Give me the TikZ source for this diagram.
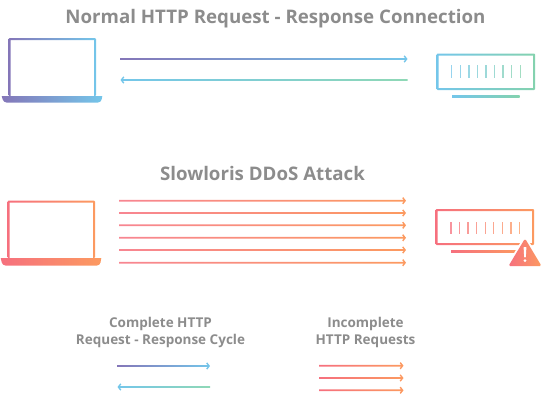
\documentclass[tikz,border=0pt]{standalone}
\usepackage{fontspec}
\setmainfont{Open Sans}
\usetikzlibrary{calc}
\definecolor{purp}{HTML}{8476B8}
\definecolor{blu}{HTML}{74C6EA}
\definecolor{grn}{HTML}{8FD8B6}
\definecolor{grn2}{HTML}{84D2AE}
\definecolor{red1}{HTML}{F6707E}
\definecolor{org}{HTML}{FC9A60}
\definecolor{txt}{HTML}{8C8C8C}
\tikzset{
  titletext/.style={font=\bfseries\fontsize{18.7}{20}\selectfont,text=txt,inner sep=0pt,anchor=base},
  legendtext/.style={font=\bfseries\fontsize{13.5}{14}\selectfont,text=txt,inner sep=0pt,anchor=base},
  grad/.style 2 args={left color=#1,right color=#2,shading angle=90,even odd rule,draw=none},
}
% gradient arrow from named coordinate #1 to #2 (pointing right or left)
\newcommand{\fwdarrow}[4][.85]{% [half width] a b; colours set by #4
  \shade[#4] let \p1=(#2),\p2=(#3) in
    (\x1,\y1+#1pt) -- (\x2-2.4pt,\y1+#1pt) -- (\x2-3.8pt,\y1+2.6pt) -- (\x2-2.8pt,\y1+3.6pt) -- (\x2,\y1)
    -- (\x2-2.8pt,\y1-3.6pt) -- (\x2-3.8pt,\y1-2.6pt) -- (\x2-2.4pt,\y1-#1pt) -- (\x1,\y1-#1pt) -- cycle;
}
\newcommand{\backarrow}[4][.85]{%
  \shade[#4] let \p1=(#2),\p2=(#3) in
    (\x1,\y1+#1pt) -- (\x2+2.4pt,\y1+#1pt) -- (\x2+3.8pt,\y1+2.6pt) -- (\x2+2.8pt,\y1+3.6pt) -- (\x2,\y1)
    -- (\x2+2.8pt,\y1-3.6pt) -- (\x2+3.8pt,\y1-2.6pt) -- (\x2+2.4pt,\y1-#1pt) -- (\x1,\y1-#1pt) -- cycle;
}
\newcommand{\laptop}[6]{% x0 y0 x1 y1 basebottom colours
  \shade[#6] [rounded corners=1pt] (#1,#2) rectangle (#3,#4)
     [sharp corners] (#1+2,#2+2) rectangle (#3-2,#4);
  \shade[#6] (#1-6.8,#4) -- (#3+6.3,#4) [rounded corners=3pt] -- (#3+5,#5) -- (#1-5,#5) [sharp corners] -- cycle;
}
\newcommand{\server}[8]{% x0 y0 x1 y1 ticky0 ticky1 colourA colourB
  \shade[grad={#7}{#8}] [rounded corners=1pt] (#1,#2) rectangle (#3,#4)
     [sharp corners] (#1+2,#2+2) rectangle (#3-2,#4-2);
  \foreach \i in {0,...,8}{
    \pgfmathsetmacro\pct{\i*12.5}
    \path[fill={#8!\pct!#7!75!white}] ({#1+15.3+\i*8.55-.65},#5) rectangle ({#1+15.3+\i*8.55+.65},#6);
  }
  \shade[grad={#7}{#8}] (#1+15.5,#4+5.9) rectangle (#3-15.5,#4+7.2);
}
\begin{document}
\begin{tikzpicture}[x=1pt,y=-1pt]
\useasboundingbox (0,0) rectangle (546,400);
% titles
\node[titletext] (t1) at (275.5,23) {Normal HTTP Request - Response Connection};
\node[titletext] (t2) at (262.5,180) {Slowloris DDoS Attack};
% top row
\laptop{8.5}{38}{96}{96}{102.5}{grad={purp}{blu}}
\server{436.5}{53.5}{535}{90}{65}{78}{blu}{grn2}
\coordinate (a1) at (120.5,59);   \coordinate (b1) at (407.5,59);
\coordinate (a2) at (407.5,80);   \coordinate (b2) at (120.5,80);
\fwdarrow{a1}{b1}{grad={purp}{blu}}
\backarrow{a2}{b2}{grad={blu}{grn}}
% attack row
\laptop{7.5}{200.5}{95}{258}{265.5}{grad={red1}{org}}
\server{435.7}{209}{534}{245}{221.5}{233.5}{red1}{org}
\foreach \k/\yy in {1/200.7,2/213,3/225.3,4/237.8,5/250,6/262.7}{
  \coordinate (s\k) at (119,\yy); \coordinate (e\k) at (406,\yy);
  \fwdarrow{s\k}{e\k}{grad={red1!85!white}{org}}
}
% warning sign
\path[fill=white] (525,235) -- (545,268) -- (505,268) -- cycle;
\shade[grad={red1}{org},rounded corners=1.5pt] (525,238.5) -- (541.5,266) -- (508.5,266) -- cycle;
\path[fill=white,rounded corners=.6pt] (523.6,247) -- (526.4,247) -- (525.8,257.5) -- (524.2,257.5) -- cycle;
\path[fill=white] (525,260.6) circle (1.6);
% legend
\node[legendtext] (l1) at (160.5,327.5) {Complete HTTP};
\node[legendtext] (l2) at (160.5,344.8) {Request - Response Cycle};
\node[legendtext] (l3) at (365.5,327.5) {Incomplete};
\node[legendtext] (l4) at (365.5,344.8) {HTTP Requests};
\coordinate (la1) at (117,366); \coordinate (lb1) at (210,366);
\coordinate (la2) at (210,387); \coordinate (lb2) at (117.5,387);
\fwdarrow{la1}{lb1}{grad={purp}{blu}}
\backarrow{la2}{lb2}{grad={blu}{grn}}
\foreach \k/\yy in {1/365.7,2/378,3/390.3}{
  \coordinate (ra\k) at (319,\yy); \coordinate (rb\k) at (403.5,\yy);
  \fwdarrow{ra\k}{rb\k}{grad={red1}{org}}
}
\end{tikzpicture}
\end{document}
